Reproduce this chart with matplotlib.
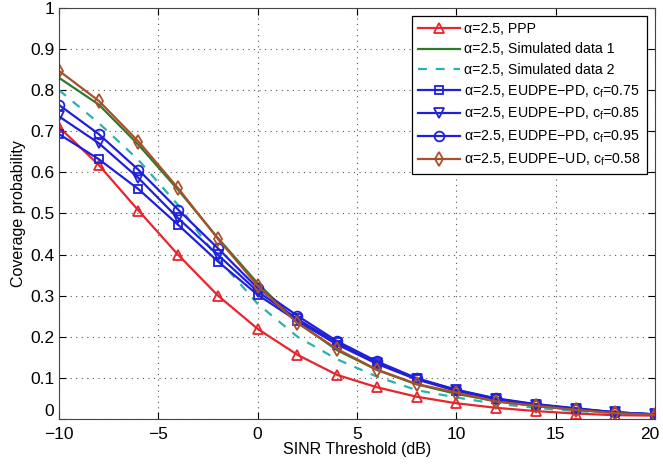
import matplotlib
matplotlib.use("Agg")
import matplotlib.pyplot as plt
import matplotlib.transforms as mtransforms
import numpy as np

plt.rcParams['font.family'] = ['Liberation Sans', 'DejaVu Sans']

x = [-10, -8, -6, -4, -2, 0, 2, 4, 6, 8, 10, 12, 14, 16, 18, 20]
ppp = [0.71, 0.618, 0.507, 0.399, 0.30, 0.219, 0.156, 0.107, 0.077, 0.054, 0.038, 0.027, 0.019, 0.013, 0.009, 0.008]
sim1 = [0.83, 0.765, 0.667, 0.557, 0.44, 0.33, 0.235, 0.167, 0.119, 0.084, 0.061, 0.043, 0.031, 0.022, 0.015, 0.011]
sim2 = [0.80, 0.72, 0.63, 0.52, 0.39, 0.28, 0.20, 0.145, 0.103, 0.07, 0.052, 0.037, 0.027, 0.019, 0.014, 0.011]
pd075 = [0.693, 0.632, 0.559, 0.472, 0.383, 0.302, 0.238, 0.181, 0.134, 0.096, 0.068, 0.048, 0.034, 0.024, 0.016, 0.011]
pd085 = [0.736, 0.671, 0.586, 0.488, 0.399, 0.31, 0.243, 0.185, 0.137, 0.098, 0.07, 0.049, 0.035, 0.025, 0.016, 0.011]
pd095 = [0.764, 0.693, 0.606, 0.509, 0.415, 0.318, 0.251, 0.189, 0.14, 0.099, 0.071, 0.05, 0.036, 0.026, 0.016, 0.011]
ud058 = [0.847, 0.774, 0.675, 0.561, 0.438, 0.324, 0.233, 0.17, 0.12, 0.085, 0.064, 0.042, 0.032, 0.022, 0.014, 0.01]

labels = ['α=2.5, PPP', 'α=2.5, Simulated data 1', 'α=2.5, Simulated data 2',
          'α=2.5, EUDPE−PD, c$_{\\mathregular{f}}$=0.75',
          'α=2.5, EUDPE−PD, c$_{\\mathregular{f}}$=0.85',
          'α=2.5, EUDPE−PD, c$_{\\mathregular{f}}$=0.95',
          'α=2.5, EUDPE−UD, c$_{\\mathregular{f}}$=0.58']

fig = plt.figure(figsize=(6.63, 4.67), dpi=100)
ax = fig.add_axes([0.089, 0.103, 0.899, 0.880])

red = '#e8242c'
green = '#2e7a2a'
cyan = '#26b3b0'
blue = '#2020d8'
brown = '#a8502a'
ms = 7
lw = 1.6
ax.plot(x, ppp, color=red, marker='^', mfc='none', ms=ms, lw=lw, mew=1.3, label=labels[0])
ax.plot(x, sim1, color=green, lw=lw, label=labels[1])
ax.plot(x, sim2, color=cyan, lw=lw, ls=(0, (4, 4)), label=labels[2])
ax.plot(x, pd075, color=blue, marker='s', mfc='none', ms=6, lw=lw, mew=1.3, label=labels[3])
ax.plot(x, pd085, color=blue, marker='v', mfc='none', ms=ms, lw=lw, mew=1.3, label=labels[4])
ax.plot(x, pd095, color=blue, marker='o', mfc='none', ms=ms, lw=lw, mew=1.3, label=labels[5])
ax.plot(x, ud058, color=brown, marker='d', mfc='none', ms=ms, lw=lw, mew=1.3, label=labels[6])

ax.set_xlim(-10, 20)
ax.set_ylim(0, 1)
ax.set_xticks([-10, -5, 0, 5, 10, 15, 20])
ax.set_xticklabels(['−10', '−5', '0', '5', '10', '15', '20'])
ax.set_yticks(np.arange(0, 1.01, 0.1))
ax.set_yticklabels(['0', '0.1', '0.2', '0.3', '0.4', '0.5', '0.6', '0.7', '0.8', '0.9', '1'])
ax.grid(True, ls=(0, (1, 4)), color='#555555', lw=0.8)
ax.tick_params(direction='in', top=True, right=True, labelsize=12.5, length=5)
ax.tick_params(axis='x', pad=6)
ax.get_yticklabels()[0].set_verticalalignment('bottom')
last = ax.get_xticklabels()[-1]
last.set_transform(last.get_transform() + mtransforms.ScaledTranslation(-5/100, 0, fig.dpi_scale_trans))
for s in ax.spines.values():
    s.set_color('#444444')
ax.set_xlabel('SINR Threshold (dB)', fontsize=11.5, labelpad=0)
ax.set_ylabel('Coverage probability', fontsize=11.5, labelpad=3)

leg = ax.legend(loc='upper right', fontsize=10.2, fancybox=False, edgecolor='black',
                framealpha=1, handlelength=3.0, borderaxespad=0.6, labelspacing=0.45,
                handletextpad=0.3)
leg.get_frame().set_linewidth(0.9)

fig.savefig('out.png', dpi=100)
